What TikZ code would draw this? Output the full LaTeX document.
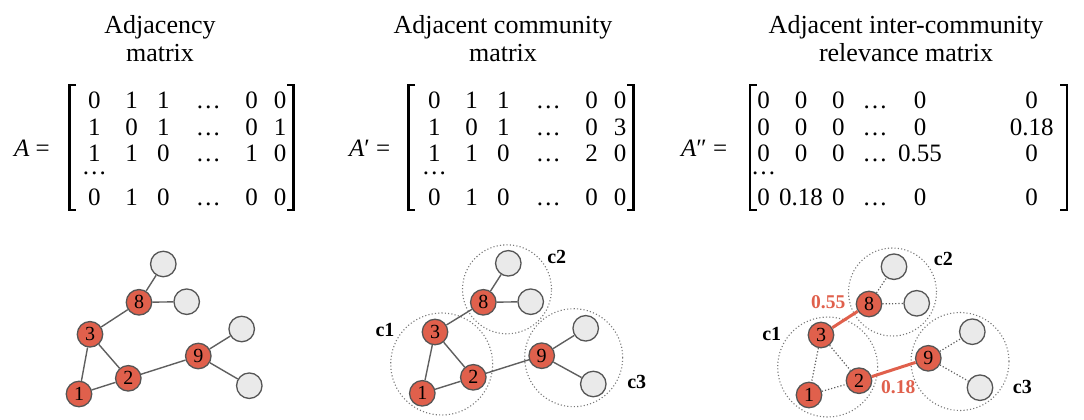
\documentclass[tikz,border=0pt]{standalone}
\usepackage{fontspec}
\setmainfont{Liberation Serif}
\definecolor{nred}{RGB}{224,96,76}
\definecolor{lgray}{RGB}{234,234,234}
\definecolor{bgray}{RGB}{85,85,85}
\definecolor{egray}{RGB}{95,95,95}
\definecolor{cgray}{RGB}{120,120,120}
\tikzset{
  ttl/.style={anchor=base,inner sep=0,font=\fontsize{26}{26}\selectfont},
  ent/.style={anchor=base,inner sep=0,font=\fontsize{25}{25}\selectfont},
  brk/.style={line width=2.4pt,line cap=butt},
  rn/.style={circle,fill=nred,draw=bgray,line width=1.3pt,minimum size=25.5pt,inner sep=0,font=\fontsize{20}{20}\selectfont},
  gn/.style={circle,fill=lgray,draw=bgray,line width=1.3pt,minimum size=25.5pt,inner sep=0},
  edg/.style={draw=egray,line width=1.4pt},
  dedg/.style={draw=egray,line width=1.2pt,dash pattern=on 1.2pt off 2pt},
  redg/.style={draw=nred,line width=3pt},
  comm/.style={draw=cgray,line width=1.1pt,dash pattern=on 1.1pt off 2.2pt},
  clab/.style={font=\bfseries\fontsize{20}{20}\selectfont,inner sep=0},
  vlab/.style={font=\bfseries\fontsize{19.5}{19.5}\selectfont,text=nred,inner sep=0}
}
\begin{document}
\begin{tikzpicture}[x=1pt,y=-1pt]
\path[use as bounding box] (0,0) rectangle (1084,420);
% titles
\node[ttl] (t1a) at (160,33.5) {Adjacency};
\node[ttl] (t1b) at (160,62) {matrix};
\node[ttl] (t2a) at (503,33.5) {Adjacent community};
\node[ttl] (t2b) at (503,62) {matrix};
\node[ttl] (t3a) at (906,33.5) {Adjacent inter-community};
\node[ttl] (t3b) at (906,62) {relevance matrix};
% matrix 1
\node[ent,anchor=base west] (eq1) at (14,156) {\itshape A\upshape\ =};
\foreach \r/\y/\a/\b/\c/\e/\f in {1/108.5/0/1/1/0/0,2/135/1/0/1/0/1,3/161/1/1/0/1/0,5/205.5/0/1/0/0/0}{
  \node[ent] (ma-\r-1) at (94.3,\y) {\a};
  \node[ent] (ma-\r-2) at (131.7,\y) {\b};
  \node[ent] (ma-\r-3) at (163.3,\y) {\c};
  \node[ent] (ma-\r-4) at (208.3,\y) {\ldots};
  \node[ent] (ma-\r-5) at (251.7,\y) {\e};
  \node[ent] (ma-\r-6) at (280,\y) {\f};
}
\node[ent] (ma-4-1) at (94.3,174) {\ldots};
\draw[brk] (76,85) -- (69.3,85) -- (69.3,210) -- (76,210);
\draw[brk] (287,85) -- (293.3,85) -- (293.3,210) -- (287,210);
% matrix 2
\node[ent,anchor=base west] (eq2) at (349,156) {\itshape A\upshape′ =};
\foreach \r/\y/\a/\b/\c/\e/\f in {1/108.5/0/1/1/0/0,2/135/1/0/1/0/3,3/161/1/1/0/2/0,5/205.5/0/1/0/0/0}{
  \node[ent] (mb-\r-1) at (434.3,\y) {\a};
  \node[ent] (mb-\r-2) at (471.7,\y) {\b};
  \node[ent] (mb-\r-3) at (503.3,\y) {\c};
  \node[ent] (mb-\r-4) at (548.3,\y) {\ldots};
  \node[ent] (mb-\r-5) at (591.7,\y) {\e};
  \node[ent] (mb-\r-6) at (620,\y) {\f};
}
\node[ent] (mb-4-1) at (434.3,174) {\ldots};
\draw[brk] (415,85) -- (408.3,85) -- (408.3,210) -- (415,210);
\draw[brk] (627,85) -- (633.3,85) -- (633.3,210) -- (627,210);
% matrix 3
\node[ent,anchor=base west] (eq3) at (681,156) {\itshape A\upshape″ =};
\foreach \r/\y/\a/\b/\c/\e/\f in {1/108.5/0/0/0/0/0,2/135/0/0/0/0/0.18,3/161/0/0/0/0.55/0,5/205.5/0/0.18/0/0/0}{
  \node[ent] (mc-\r-1) at (763.5,\y) {\a};
  \node[ent] (mc-\r-2) at (801,\y) {\b};
  \node[ent] (mc-\r-3) at (838.3,\y) {\c};
  \node[ent] (mc-\r-4) at (875,\y) {\ldots};
  \node[ent] (mc-\r-5) at (920,\y) {\e};
  \node[ent] (mc-\r-6) at (1031.7,\y) {\f};
}
\node[ent] (mc-4-1) at (763.5,174) {\ldots};
\draw[brk] (756.7,85) -- (750,85) -- (750,210) -- (756.7,210);
\draw[brk] (1060,85) -- (1066.7,85) -- (1066.7,210) -- (1060,210);
% ---------- graph 1
\node[gn] (a-ga) at (163.3,264) {};
\node[gn] (a-gb) at (186.7,301.7) {};
\node[gn] (a-gc) at (241.7,329) {};
\node[gn] (a-gd) at (249.3,385.7) {};
\node[rn] (a-8) at (139,302.3) {8};
\node[rn] (a-3) at (90,334.3) {3};
\node[rn] (a-9) at (198.3,356) {9};
\node[rn] (a-2) at (128.3,378.3) {2};
\node[rn] (a-1) at (79,394) {1};
\foreach \u/\v in {8/ga,8/gb,3/8,3/1,3/2,1/2,2/9,9/gc,9/gd}{
  \draw[edg] (a-\u) -- (a-\v);
}
% ---------- graph 2
\node[circle,comm,minimum size=102pt,inner sep=0] (b-c1) at (441.7,364) {};
\node[circle,comm,minimum size=89pt,inner sep=0] (b-c2) at (507,289.3) {};
\node[circle,comm,minimum size=98pt,inner sep=0] (b-c3) at (573.7,357.7) {};
\node[clab] (b-l1) at (385,330) {c1};
\node[clab] (b-l2) at (556.7,256.7) {c2};
\node[clab] (b-l3) at (636.7,382.3) {c3};
\node[gn] (b-ga) at (508.3,263.3) {};
\node[gn] (b-gb) at (530.7,301.7) {};
\node[gn] (b-gc) at (585.7,328.3) {};
\node[gn] (b-gd) at (593.3,384) {};
\node[rn] (b-8) at (483.3,302.3) {8};
\node[rn] (b-3) at (435,332) {3};
\node[rn] (b-9) at (541.7,355.7) {9};
\node[rn] (b-2) at (473.3,377.3) {2};
\node[rn] (b-1) at (422.3,393.3) {1};
\foreach \u/\v in {8/ga,8/gb,3/8,3/1,3/2,1/2,2/9,9/gc,9/gd}{
  \draw[edg] (b-\u) -- (b-\v);
}
% ---------- graph 3
\node[circle,comm,minimum size=100pt,inner sep=0] (c-c1) at (827.7,367) {};
\node[circle,comm,minimum size=88pt,inner sep=0] (c-c2) at (892.5,292) {};
\node[circle,comm,minimum size=98pt,inner sep=0] (c-c3) at (960,361.5) {};
\node[clab] (c-l1) at (771.7,334) {c1};
\node[clab] (c-l2) at (943.3,259) {c2};
\node[clab] (c-l3) at (1022.3,386.7) {c3};
\node[gn] (c-ga) at (894,266.7) {};
\node[gn] (c-gb) at (916.7,303.3) {};
\node[gn] (c-gc) at (972.3,331.7) {};
\node[gn] (c-gd) at (980,387.7) {};
\node[rn] (c-8) at (869,304) {8};
\node[rn] (c-3) at (821,335) {3};
\node[rn] (c-9) at (928.3,358.3) {9};
\node[rn] (c-2) at (859,380.7) {2};
\node[rn] (c-1) at (809,395) {1};
\foreach \u/\v in {8/ga,8/gb,3/1,3/2,1/2,9/gc,9/gd}{
  \draw[dedg] (c-\u) -- (c-\v);
}
\draw[redg] (c-3) -- (c-8);
\draw[redg] (c-2) -- (c-9);
\node[vlab] (c-v1) at (828.3,301.7) {0.55};
\node[vlab] (c-v2) at (898.3,386.7) {0.18};
\end{tikzpicture}
\end{document}
